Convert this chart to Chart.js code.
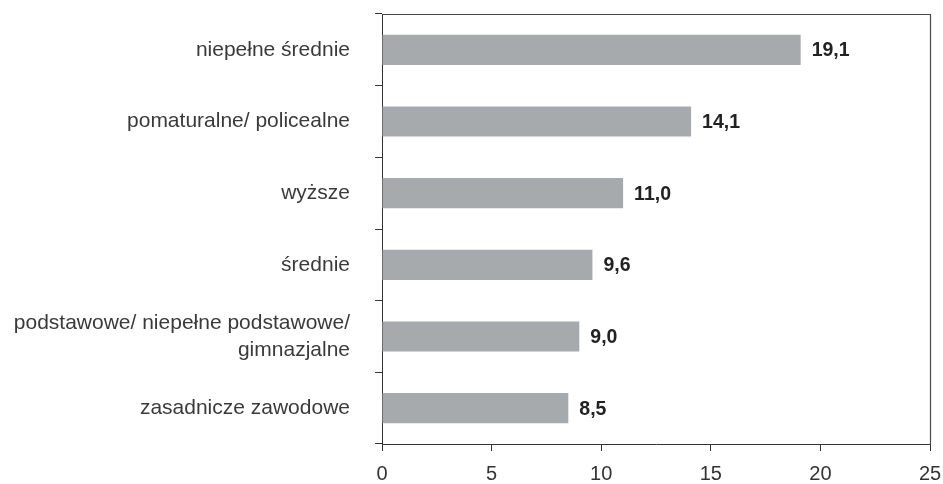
<!DOCTYPE html>
<html>
<head>
<meta charset="utf-8">
<script src="https://cdn.jsdelivr.net/npm/chart.js@4.4.1/dist/chart.umd.min.js"></script>
<style>
  html, body { margin: 0; padding: 0; background: #ffffff; }
  #wrap { width: 943px; height: 484px; position: relative; }
</style>
</head>
<body>
<div id="wrap"><canvas id="c" width="943" height="484"></canvas></div>
<script>
const categories = [
  'niepełne średnie',
  'pomaturalne/ policealne',
  'wyższe',
  'średnie',
  ['podstawowe/ niepełne podstawowe/', 'gimnazjalne'],
  'zasadnicze zawodowe'
];
const values = [19.1, 14.1, 11.0, 9.6, 9.0, 8.5];
const xTicks = [0, 5, 10, 15, 20, 25];

const FONT = '"Liberation Sans", Arial, sans-serif';

const frame = {
  id: 'frame',
  afterDraw(chart) {
    const a = chart.chartArea, ctx = chart.ctx;
    ctx.save();
    ctx.strokeStyle = '#4a4a4a';
    ctx.lineWidth = 1.2;
    ctx.beginPath();
    ctx.moveTo(Math.round(a.left) + 0.5, Math.round(a.top) + 0.5);
    ctx.lineTo(Math.round(a.right) + 0.5, Math.round(a.top) + 0.5);
    ctx.lineTo(Math.round(a.right) + 0.5, Math.round(a.bottom) + 0.5);
    ctx.stroke();
    ctx.restore();
  }
};

const valueLabels = {
  id: 'valueLabels',
  afterDatasetsDraw(chart) {
    const ctx = chart.ctx;
    const meta = chart.getDatasetMeta(0);
    ctx.save();
    ctx.font = 'bold 19.5px ' + FONT;
    ctx.fillStyle = '#222222';
    ctx.textAlign = 'left';
    ctx.textBaseline = 'middle';
    meta.data.forEach((bar, i) => {
      const txt = values[i].toFixed(1).replace('.', ',');
      ctx.fillText(txt, bar.x + 11, bar.y + 1);
    });
    ctx.restore();
  }
};

new Chart(document.getElementById('c'), {
  type: 'bar',
  data: {
    labels: categories,
    datasets: [{
      data: values,
      backgroundColor: '#a7aaad',
      borderWidth: 0,
      barPercentage: 0.42,
      categoryPercentage: 1.0
    }]
  },
  options: {
    indexAxis: 'y',
    responsive: false,
    animation: false,
    devicePixelRatio: 1,
    layout: { padding: { left: 0, top: 14, right: 13, bottom: 0 } },
    plugins: {
      legend: { display: false },
      tooltip: { enabled: false },
      title: { display: false }
    },
    scales: {
      x: {
        type: 'linear',
        min: 0,
        max: 25,
        afterBuildTicks(scale) { scale.ticks = xTicks.map(v => ({ value: v })); },
        afterFit(scale) { scale.height = 40; scale.paddingLeft = 0; scale.paddingRight = 0; },
        grid: { drawOnChartArea: false, tickLength: 7, color: '#333333', lineWidth: 1 },
        border: { display: true, color: '#333333', width: 1 },
        ticks: { font: { family: FONT, size: 20 }, color: '#333333', padding: 11, maxRotation: 0 }
      },
      y: {
        type: 'category',
        offset: true,
        afterFit(scale) { scale.width = 382; scale.paddingTop = 0; scale.paddingBottom = 0; },
        grid: { drawOnChartArea: false, offset: true, tickLength: 7, color: '#333333', lineWidth: 1 },
        border: { display: true, color: '#333333', width: 1 },
        ticks: { font: { family: FONT, size: 21, lineHeight: 1.3 }, color: '#3a3a3a', padding: 25, autoSkip: false }
      }
    }
  },
  plugins: [frame, valueLabels]
});
</script>
</body>
</html>
